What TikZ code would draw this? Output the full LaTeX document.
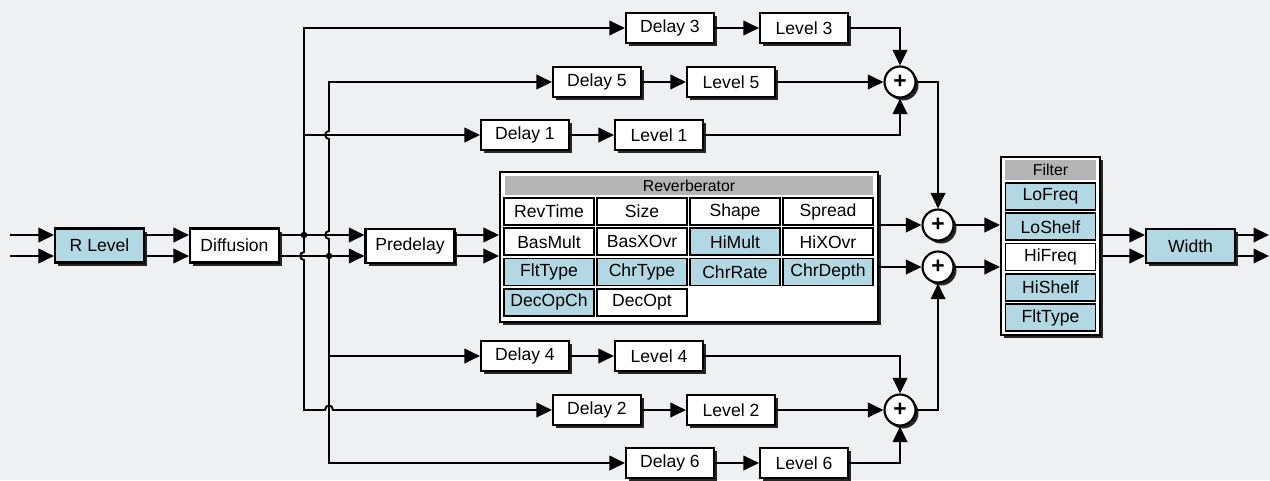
\documentclass[tikz,border=0pt]{standalone}
\usepackage{fontspec}
\setmainfont{Liberation Sans}
\usetikzlibrary{arrows.meta,shadows}
\definecolor{bgc}{RGB}{239,240,242}
\definecolor{lblue}{RGB}{178,216,228}
\definecolor{hgray}{RGB}{180,180,180}
\tikzset{
  sig/.style={line width=1.1pt,-{Triangle[length=0.31cm,width=0.29cm]}},
  shd/.style={drop shadow={shadow xshift=0.06cm,shadow yshift=-0.06cm,opacity=1,fill=black!85}},
  blk/.style={draw,line width=1.2pt,fill=white,minimum width=1.76cm,minimum height=0.6cm,
    inner sep=0pt,font=\fontsize{10}{12}\selectfont,shd},
  bigblk/.style={blk,minimum width=1.78cm,minimum height=0.68cm},
  cell/.style={draw,line width=1pt,minimum width=1.8cm,minimum height=0.54cm,inner sep=0pt,
    font=\fontsize{10}{12}\selectfont},
  hdr/.style={fill=hgray,inner sep=0pt,font=\fontsize{9}{11}\selectfont},
  sum/.style={circle,draw,line width=1.2pt,fill=white,minimum size=0.62cm,inner sep=0pt,
    font=\fontsize{13}{13}\selectfont\bfseries,shd},
  dot/.style={circle,fill,inner sep=0pt,minimum size=0.13cm}
}
\begin{document}
\begin{tikzpicture}[x=0.02cm,y=-0.02cm]%[scale=0.8]
\useasboundingbox (0,0) rectangle (1270,480);
\fill[bgc] (0,0) rectangle (1270,480);
% main chain
\coordinate (in1) at (10,235);
\coordinate (in2) at (10,256);
\coordinate (a0) at (304,235);
\coordinate (b0) at (329,256);
\node[bigblk,fill=lblue] (rl) at (99.5,245.5) {R Level};
\node[bigblk] (dif) at (234.5,245.5) {Diffusion};
\node[bigblk] (pre) at (410,246) {Predelay};
\node[blk,minimum width=7.56cm,minimum height=3cm] (rev) at (689,247) {};
\node[hdr,minimum width=7.36cm,minimum height=0.38cm] (revh) at (689,185.5) {Reverberator};
\foreach \t/\c/\r/\f in {RevTime/0/0/white,Size/1/0/white,Shape/2/0/white,Spread/3/0/white,
  BasMult/0/1/white,BasXOvr/1/1/white,HiMult/2/1/lblue,HiXOvr/3/1/white,
  FltType/0/2/lblue,ChrType/1/2/lblue,ChrRate/2/2/lblue,ChrDepth/3/2/lblue,
  DecOpCh/0/3/lblue,DecOpt/1/3/white}
  \node[cell,fill=\f] (rv\c\r) at (549+93*\c,211.5+30.3*\r) {\t};
\node[blk,minimum width=1.98cm,minimum height=3.56cm] (fil) at (1050.5,246) {};
\node[hdr,minimum width=1.82cm,minimum height=0.4cm] (filh) at (1050.5,170) {Filter};
\foreach \t/\r/\f in {LoFreq/0/lblue,LoShelf/1/lblue,HiFreq/2/white,HiShelf/3/lblue,FltType/4/lblue}
  \node[cell,fill=\f] (fl\r) at (1050.5,196.5+30.3*\r) {\t};
\node[bigblk,fill=lblue] (wid) at (1190.5,246) {Width};
\coordinate (out1) at (1269,235);
\coordinate (out2) at (1269,256);
\draw[sig] (in1) -- (rl.west |- in1);
\draw[sig] (in2) -- (rl.west |- in2);
\draw[sig] (rl.east |- in1) -- (dif.west |- in1);
\draw[sig] (rl.east |- in2) -- (dif.west |- in2);
\draw[sig] (dif.east |- a0) -- (pre.west |- a0);
\draw[sig] (dif.east |- b0) -- (pre.west |- b0);
\draw[sig] (pre.east |- a0) -- (rev.west |- a0);
\draw[sig] (pre.east |- b0) -- (rev.west |- b0);
% delay taps
\foreach \n/\x/\y in {3/670/28,5/597/82,1/525/135,4/525/356,2/597/410,6/670/463}{
  \node[blk] (d\n) at (\x,\y) {Delay \n};
  \node[blk] (l\n) at (\x+134,\y) {Level \n};
  \draw[sig] (d\n) -- (l\n);
}
\draw[sig] (a0) |- (d3);
\draw[sig] (a0 |- d1) -- (d1);
\draw[sig] (a0) -- (304,252) .. controls (299,252) and (299,260) .. (304,260) -- (304,410)
  -- (325,410) .. controls (325,404) and (333,404) .. (333,410) -- (d2);
\draw[sig] (b0) -- (329,239) .. controls (324,239) and (324,231) .. (329,231) -- (329,139)
  .. controls (324,139) and (324,131) .. (329,131) |- (d5);
\draw[sig] (b0) |- (d6);
\draw[sig] (b0 |- d4) -- (d4);
\node[dot] (ja) at (a0) {};
\node[dot] (jb) at (b0) {};
% mixers
\node[sum] (s1) at (900,82) {+};
\node[sum] (s2) at (900,410) {+};
\node[sum] (s3) at (938,225) {+};
\node[sum] (s4) at (938,267) {+};
\draw[sig] (l3) -| (s1);
\draw[sig] (l5) -- (s1);
\draw[sig] (l1) -| (s1);
\draw[sig] (l4) -| (s2);
\draw[sig] (l2) -- (s2);
\draw[sig] (l6) -| (s2);
\draw[sig] (s1) -| (s3);
\draw[sig] (s2) -| (s4);
\draw[sig] (rev.east |- s3) -- (s3);
\draw[sig] (rev.east |- s4) -- (s4);
\draw[sig] (s3) -- (fil.west |- s3);
\draw[sig] (s4) -- (fil.west |- s4);
\draw[sig] (fil.east |- a0) -- (wid.west |- a0);
\draw[sig] (fil.east |- b0) -- (wid.west |- b0);
\draw[sig] (wid.east |- a0) -- (out1);
\draw[sig] (wid.east |- b0) -- (out2);
\end{tikzpicture}
\end{document}
